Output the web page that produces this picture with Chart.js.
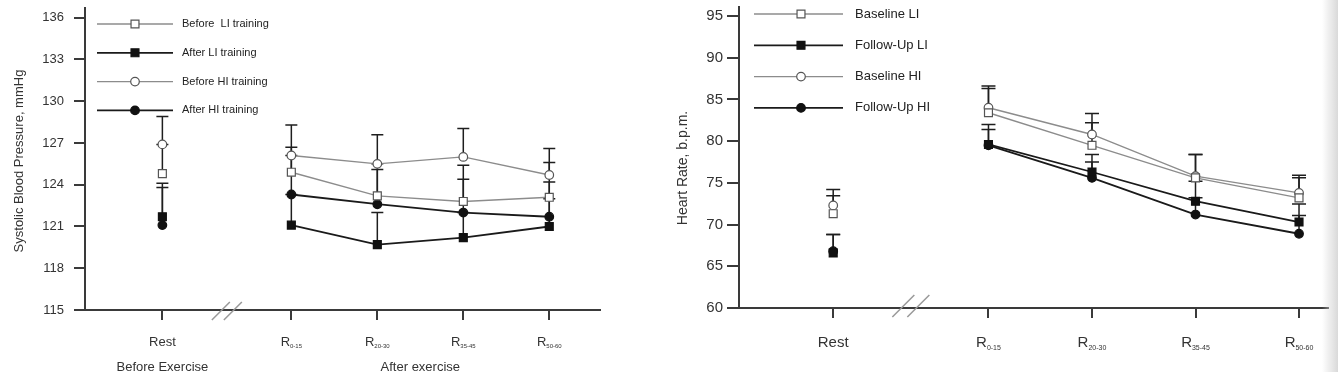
<!DOCTYPE html>
<html>
<head>
<meta charset="utf-8">
<script src="https://cdn.jsdelivr.net/npm/chart.js@4.4.1/dist/chart.umd.min.js"></script>
<style>
  body { margin: 0; background: #fff; }
  .box { position: absolute; top: 0; height: 372px; }
  #edge { position: absolute; left: 1322px; top: 0; width: 16px; height: 372px;
          background: linear-gradient(to right, rgba(255,255,255,0), #d9d9d9); }
</style>
</head>
<body>
<div class="box" style="left:0;width:630px"><canvas id="bp"></canvas></div>
<div class="box" style="left:640px;width:698px"><canvas id="hr"></canvas></div>
<div id="edge"></div>
<script>
Chart.defaults.font.family = "'Liberation Sans', Arial, sans-serif";
Chart.defaults.color = '#333';
Chart.defaults.animation = false;

const stageLabels = ['Rest', 'R0-15', 'R20-30', 'R35-45', 'R50-60'];

// systolic blood pressure, mmHg: mean and SD (bars drawn upward only)
const bpBeforeLI   = [124.8, 124.9, 123.2, 122.8, 123.1];
const bpBeforeLIsd = [2.1, 1.8, 2.3, 2.6, 2.5];
const bpAfterLI    = [121.7, 121.1, 119.7, 120.2, 121.0];
const bpAfterLIsd  = [2.4, 2.2, 2.3, 1.8, 2.0];
const bpBeforeHI   = [126.9, 126.1, 125.5, 126.0, 124.7];
const bpBeforeHIsd = [2.0, 2.2, 2.1, 2.05, 1.9];
const bpAfterHI    = [121.1, 123.3, 122.6, 122.0, 121.7];
const bpAfterHIsd  = [2.7, 2.8, 2.5, 2.4, 2.5];
const bpTicks      = [115, 118, 121, 124, 127, 130, 133, 136];

// heart rate, b.p.m.
const hrBaseLI     = [71.3, 83.4, 79.5, 75.6, 73.2];
const hrBaseLIsd   = [2.15, 2.9, 2.7, 2.8, 2.4];
const hrFollowLI   = [66.6, 79.6, 76.3, 72.8, 70.3];
const hrFollowLIsd = [2.2, 2.4, 2.1, 2.4, 2.15];
const hrBaseHI     = [72.3, 84.0, 80.8, 75.8, 73.8];
const hrBaseHIsd   = [1.9, 2.6, 2.5, 2.6, 2.1];
const hrFollowHI   = [66.8, 79.5, 75.6, 71.2, 68.9];
const hrFollowHIsd = [2.0, 1.9, 1.9, 2.0, 2.2];
const hrTicks      = [60, 65, 70, 75, 80, 85, 90, 95];

// rest sits apart from the recovery points, with the axis break between
function stageX(i) { return i === 0 ? 0 : i + 0.5; }

function series(label, values, sd, filled, shape) {
  return {
    label: label,
    sd: sd,
    data: values.map((v, i) => ({ x: stageX(i), y: v })),
    borderColor: filled ? '#1a1a1a' : '#8c8c8c',
    borderWidth: filled ? 1.8 : 1.4,
    pointStyle: shape,
    pointRadius: shape === 'rect' ? 5.6 : 4.3,
    pointBackgroundColor: filled ? '#111' : '#fff',
    pointBorderColor: filled ? '#111' : '#555',
    pointBorderWidth: 1.2,
    segment: { borderColor: ctx => ctx.p0DataIndex === 0 ? 'rgba(0,0,0,0)' : undefined },
    fill: false,
    tension: 0
  };
}

const figurePlugin = {
  id: 'figure',
  beforeDatasetsDraw(chart, args, opts) {
    const { ctx, scales: { x, y } } = chart;
    ctx.save();
    ctx.strokeStyle = '#1e1e1e';
    ctx.lineWidth = 1.5;
    chart.data.datasets.forEach(ds => {
      ds.data.forEach((p, i) => {
        const px = x.getPixelForValue(p.x);
        const y0 = y.getPixelForValue(p.y);
        const y1 = y.getPixelForValue(p.y + ds.sd[i]);
        ctx.beginPath();
        ctx.moveTo(px, y0);
        ctx.lineTo(px, y1);
        ctx.moveTo(px - opts.cap, y1);
        ctx.lineTo(px + opts.cap, y1);
        ctx.stroke();
      });
    });
    ctx.restore();
  },
  afterDraw(chart, args, opts) {
    const { ctx, chartArea, scales: { x } } = chart;
    ctx.save();

    // axis break
    const bx = x.getPixelForValue(opts.breakAt);
    const by = chartArea.bottom + opts.breakDy;
    ctx.strokeStyle = '#999';
    ctx.lineWidth = 1.5;
    [-opts.breakGap, opts.breakGap].forEach(off => {
      ctx.beginPath();
      ctx.moveTo(bx + off - opts.breakSize, by + opts.breakSize);
      ctx.lineTo(bx + off + opts.breakSize, by - opts.breakSize);
      ctx.stroke();
    });

    // stage labels with subscripted ranges
    ctx.fillStyle = '#333';
    stageLabels.forEach((lab, i) => {
      const cx = x.getPixelForValue(stageX(i));
      const big = opts.stageSize + 'px ' + Chart.defaults.font.family;
      const small = opts.subSize + 'px ' + Chart.defaults.font.family;
      ctx.textBaseline = 'middle';
      if (lab === 'Rest') {
        ctx.font = big;
        ctx.textAlign = 'center';
        ctx.fillText(lab, cx, opts.labelY);
        return;
      }
      const sub = lab.slice(1);
      ctx.font = big;
      const wR = ctx.measureText('R').width;
      ctx.font = small;
      const wS = ctx.measureText(sub).width;
      const left = cx - (wR + wS) / 2;
      ctx.textAlign = 'left';
      ctx.font = big;
      ctx.fillText('R', left, opts.labelY);
      ctx.font = small;
      ctx.textBaseline = 'alphabetic';
      ctx.fillText(sub, left + wR, opts.labelY + opts.stageSize * 0.36 + 1.5);
    });

    // group labels under the axis
    ctx.font = opts.groupSize + 'px ' + Chart.defaults.font.family;
    ctx.textAlign = 'center';
    ctx.textBaseline = 'middle';
    (opts.groups || []).forEach(g => {
      ctx.fillText(g.text, x.getPixelForValue(g.at), opts.groupY);
    });

    // y title
    ctx.save();
    ctx.translate(opts.yTitle.x, opts.yTitle.y);
    ctx.rotate(-Math.PI / 2);
    ctx.font = opts.yTitle.size + 'px ' + Chart.defaults.font.family;
    ctx.fillText(opts.yTitle.text, 0, 0);
    ctx.restore();

    // legend: line sample with the marker in the middle
    const lg = opts.legend;
    chart.data.datasets.forEach((ds, k) => {
      const ly = lg.y0 + k * lg.dy;
      ctx.strokeStyle = ds.borderColor;
      ctx.lineWidth = ds.borderWidth;
      ctx.beginPath();
      ctx.moveTo(lg.x0, ly);
      ctx.lineTo(lg.x1, ly);
      ctx.stroke();
      ctx.fillStyle = ds.pointBackgroundColor;
      ctx.strokeStyle = ds.pointBorderColor;
      ctx.lineWidth = ds.pointBorderWidth;
      Chart.helpers.drawPoint(ctx, {
        pointStyle: ds.pointStyle, rotation: 0,
        radius: ds.pointRadius, borderWidth: ds.pointBorderWidth
      }, lg.xm, ly);
      ctx.fillStyle = '#222';
      ctx.font = lg.size + 'px ' + Chart.defaults.font.family;
      ctx.textAlign = 'left';
      ctx.textBaseline = 'middle';
      ctx.fillText(ds.label, lg.tx, ly);
    });
    ctx.restore();
  }
};

function drawFigure(id, cfg) {
  new Chart(document.getElementById(id), {
    type: 'line',
    data: { datasets: cfg.datasets },
    options: {
      responsive: true,
      maintainAspectRatio: false,
      layout: { padding: { top: cfg.top, right: cfg.right, left: 0, bottom: 0 } },
      plugins: {
        legend: { display: false },
        tooltip: { enabled: false },
        figure: cfg.figure
      },
      scales: {
        x: {
          type: 'linear',
          min: cfg.xMin,
          max: cfg.xMax,
          afterBuildTicks: s => { s.ticks = stageLabels.map((_, i) => ({ value: stageX(i) })); },
          afterFit: s => { s.height = cfg.xHeight; s.paddingLeft = 0; s.paddingRight = 0; },
          ticks: { callback: () => '', autoSkip: false },
          grid: { drawOnChartArea: false, tickLength: 10, color: '#3a3a3a', lineWidth: 2 },
          border: { color: '#3a3a3a', width: 2 }
        },
        y: {
          min: cfg.yMin,
          max: cfg.yMax,
          afterBuildTicks: s => { s.ticks = cfg.yTicks.map(v => ({ value: v })); },
          afterFit: s => { s.width = cfg.yWidth; s.paddingTop = 0; s.paddingBottom = 0; },
          ticks: { autoSkip: false, padding: cfg.tickPad, font: { size: cfg.tickSize }, color: '#333' },
          grid: { drawOnChartArea: false, tickLength: cfg.tickLen, color: '#3a3a3a', lineWidth: 2 },
          border: { color: '#3a3a3a', width: 2 }
        }
      }
    },
    plugins: [figurePlugin]
  });
}

drawFigure('bp', {
  datasets: [
    series('Before  LI training', bpBeforeLI, bpBeforeLIsd, false, 'rect'),
    series('After LI training', bpAfterLI, bpAfterLIsd, true, 'rect'),
    series('Before HI training', bpBeforeHI, bpBeforeHIsd, false, 'circle'),
    series('After HI training', bpAfterHI, bpAfterHIsd, true, 'circle')
  ],
  top: 8, right: 30, xHeight: 62, yWidth: 85,
  xMin: -0.9, xMax: 5.09,
  yMin: 115, yMax: 136.7, yTicks: bpTicks,
  tickSize: 13, tickPad: 10, tickLen: 11,
  figure: {
    cap: 6,
    breakAt: 0.75, breakDy: 1, breakSize: 9, breakGap: 6,
    stageSize: 13, subSize: 6, labelY: 342,
    groupSize: 13, groupY: 367,
    groups: [{ text: 'Before Exercise', at: 0 }, { text: 'After exercise', at: 3.0 }],
    yTitle: { text: 'Systolic Blood Pressure, mmHg', x: 19, y: 161, size: 13 },
    legend: { x0: 97, x1: 173, xm: 135, tx: 182, y0: 24, dy: 28.8, size: 11 }
  }
});

drawFigure('hr', {
  datasets: [
    series('Baseline LI', hrBaseLI, hrBaseLIsd, false, 'rect'),
    series('Follow-Up LI', hrFollowLI, hrFollowLIsd, true, 'rect'),
    series('Baseline HI', hrBaseHI, hrBaseHIsd, false, 'circle'),
    series('Follow-Up HI', hrFollowHI, hrFollowHIsd, true, 'circle')
  ],
  top: 0, right: 10, xHeight: 64, yWidth: 99,
  xMin: -0.91, xMax: 4.78,
  yMin: 60, yMax: 96.1, yTicks: hrTicks,
  tickSize: 15, tickPad: 4, tickLen: 12,
  figure: {
    cap: 7,
    breakAt: 0.75, breakDy: -2, breakSize: 11, breakGap: 7.5,
    stageSize: 15, subSize: 7, labelY: 343,
    groupSize: 13, groupY: 367,
    groups: [],
    yTitle: { text: 'Heart Rate, b.p.m.', x: 43, y: 168, size: 14 },
    legend: { x0: 114, x1: 203, xm: 161, tx: 215, y0: 14, dy: 31.3, size: 13 }
  }
});
</script>
</body>
</html>
